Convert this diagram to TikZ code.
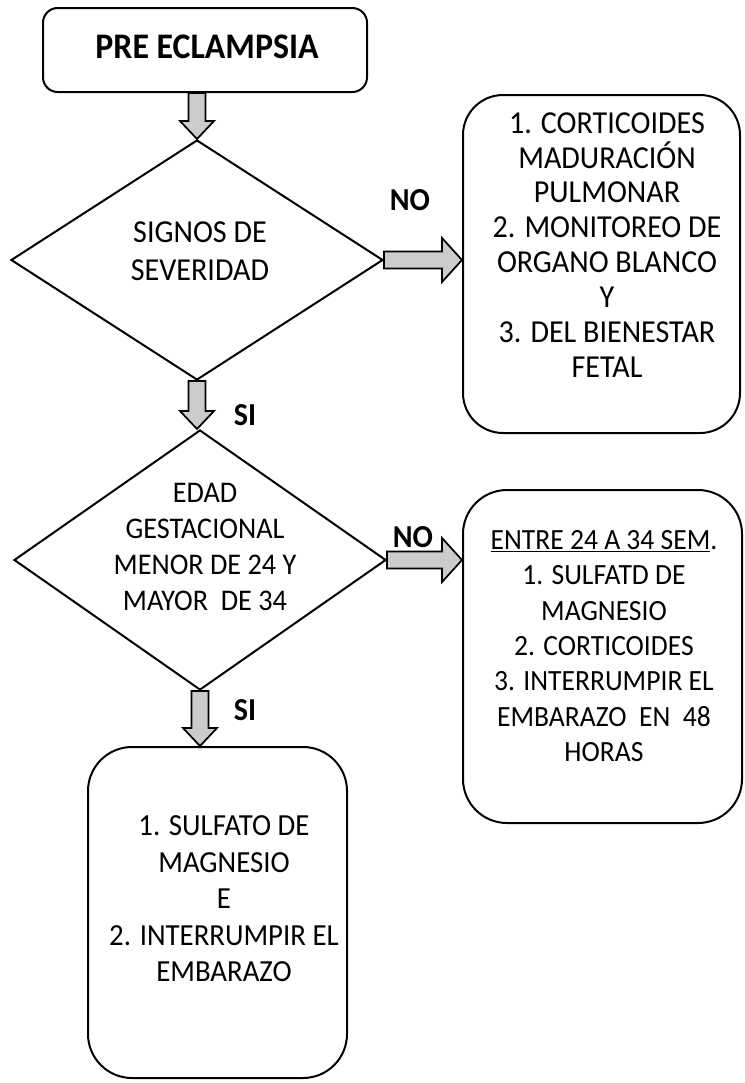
\documentclass[tikz,border=0pt]{standalone}
\usepackage{fontspec}
\setmainfont{Carlito}[FakeStretch=0.94]
\usetikzlibrary{shapes.geometric,calc}
\tikzset{
  x=0.75pt, y=-0.75pt,
  rbox/.style={draw=black, line width=1.5pt, rounded corners=#1, inner sep=0pt},
  dia/.style={draw=black, line width=1.5pt, diamond, inner sep=0pt},
  txt/.style={align=center, inner sep=0pt, text=black},
  lbl/.style={inner sep=0pt, font=\fontsize{24}{28}\selectfont\bfseries},
  barrowstyle/.style={draw=black, line width=1.3pt, fill=gray!40, line join=miter},
}
\newcommand{\blockdown}[2]{%
  \path[barrowstyle] ($(#1)+(-8.5,0)$) -- ($(#1|-#2)+(-8.5,-18)$) -- ($(#1|-#2)+(-17,-18)$)
    -- (#1|-#2) -- ($(#1|-#2)+(17,-18)$) -- ($(#1|-#2)+(8.5,-18)$) -- ($(#1)+(8.5,0)$) -- cycle;}
\newcommand{\blockright}[2]{%
  \path[barrowstyle] ($(#1)+(0,-8.5)$) -- ($(#2|-#1)+(-20,-8.5)$) -- ($(#2|-#1)+(-20,-22)$)
    -- (#2|-#1) -- ($(#2|-#1)+(-20,22)$) -- ($(#2|-#1)+(-20,8.5)$) -- ($(#1)+(0,8.5)$) -- cycle;}
\begin{document}
\begin{tikzpicture}
\useasboundingbox[fill=white] (0,0) rectangle (745,1083);

% boxes
\node[rbox=11pt, minimum width=243pt, minimum height=63pt] (pre) at (205,50) {};
\node[dia, minimum width=279pt, minimum height=180pt] (d1) at (197,260) {};
\node[dia, minimum width=279pt, minimum height=195pt] (d2) at (200,560) {};
\node[rbox=30pt, minimum width=207.75pt, minimum height=253.5pt] (r1) at (601.5,264) {};
\node[rbox=33pt, minimum width=209.25pt, minimum height=249.75pt] (r2) at (602.5,656.5) {};
\node[rbox=33pt, minimum width=194.25pt, minimum height=248.25pt] (b3) at (217.5,912.5) {};

% texts
\node[txt, font=\fontsize{27}{32}\selectfont\bfseries] (pretxt) at (207,47) {PRE ECLAMPSIA};
\node[txt, font=\fontsize{24}{28.5}\selectfont] (d1txt) at (200,251) {SIGNOS DE\\SEVERIDAD};
\node[txt, font=\fontsize{22.5}{27}\selectfont] (d2txt) at (205,547) {EDAD\\GESTACIONAL\\MENOR DE 24 Y\\MAYOR~~DE 34};
\node[txt, font=\fontsize{24}{26.2}\selectfont] (r1txt) at (607,245)
  {1. CORTICOIDES\\MADURACIÓN\\PULMONAR\\2. MONITOREO DE\\ORGANO BLANCO\\Y\\3. DEL BIENESTAR\\FETAL};
\node[txt, font=\fontsize{22}{26.5}\selectfont] (r2txt) at (604,646)
  {\underline{ENTRE 24 A 34 SEM}.\\1. SULFATD DE\\MAGNESIO\\2. CORTICOIDES\\3. INTERRUMPIR EL\\EMBARAZO~~EN~~48\\HORAS};
\node[txt, font=\fontsize{23}{27.4}\selectfont] (b3txt) at (224,899)
  {1. SULFATO DE\\MAGNESIO\\E\\2. INTERRUMPIR EL\\EMBARAZO};

% labels
\node[lbl] (no1) at (410,200) {NO};
\node[lbl] (no2) at (413,537) {NO};
\node[lbl] (si1) at (245,415) {SI};
\node[lbl] (si2) at (245,710) {SI};

% block arrows
\coordinate (a0) at (d1.north |- pre.south);
\blockdown{a0}{d1.north}
\blockdown{d1.south}{d2.north}
\blockdown{d2.south}{b3.north}
\blockright{d1.east}{r1.west}
\blockright{d2.east}{r2.west}
\end{tikzpicture}
\end{document}
